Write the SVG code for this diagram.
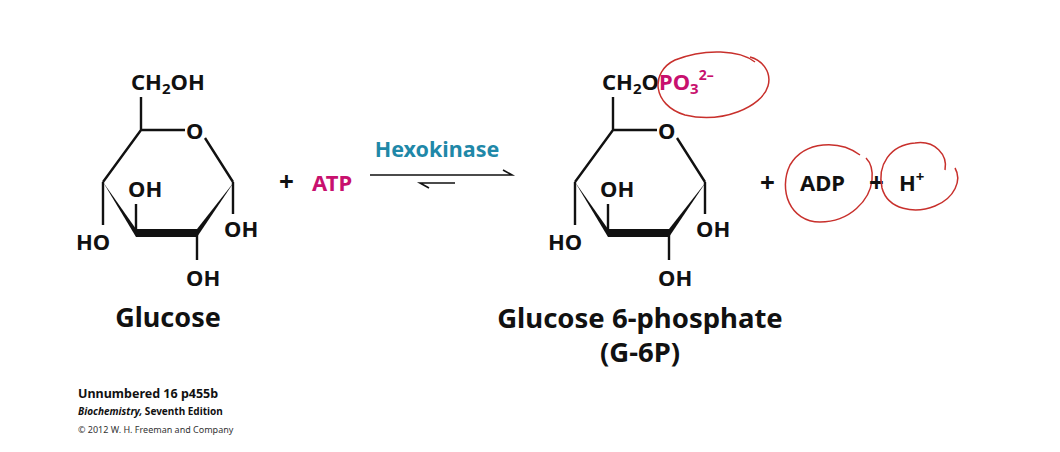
<svg xmlns="http://www.w3.org/2000/svg" width="1060" height="452" viewBox="0 0 1060 452">
<style>
.t{font-family:"Noto Sans",sans-serif;font-weight:bold;fill:#111}
.m{fill:#c8106e}
.b{stroke:#111;stroke-width:2.4;fill:none}
.red{stroke:#c8302c;stroke-width:1.5;fill:none}
</style>
<rect width="1060" height="452" fill="#fff"/>
<defs>
<g id="ring">
<path class="b" d="M141 130 L185 130 M205 138 L233 182 M103 182 L141 130 M103 182 L103 225 M233 182 L233 214 M197 233 L197 260 M136 233 L136 204 M141 130 L141 97"/>
<polygon points="103,182 136,229 136,237" fill="#111"/>
<rect x="136" y="229" width="61" height="8" fill="#111"/>
<polygon points="197,229 197,237 234,182" fill="#111"/>
<text class="t" x="186" y="139" font-size="22">O</text>
<text class="t" x="128" y="197" font-size="22">OH</text>
<text class="t" x="76" y="250" font-size="22">HO</text>
<text class="t" x="224" y="237" font-size="22">OH</text>
<text class="t" x="186" y="286" font-size="22">OH</text>
</g>
</defs>
<g id="glucose">
<use href="#ring"/>
<text class="t" x="131" y="90" font-size="22">CH<tspan font-size="15" dy="4">2</tspan><tspan dy="-4">OH</tspan></text>
<text class="t" x="168" y="327" font-size="27" text-anchor="middle">Glucose</text>
</g>
<g id="atp">
<text class="t" x="279" y="191" font-size="26">+</text>
<text class="t m" x="312" y="191" font-size="22">ATP</text>
</g>
<g id="connectors">
<text class="t" x="437" y="157" font-size="21.5" style="fill:#1f88a8" text-anchor="middle">Hexokinase</text>
<path d="M370 175 L512 175 L503 170" stroke="#111" stroke-width="1.6" fill="none"/>
<path d="M455 183 L420 183 L429 188" stroke="#111" stroke-width="1.6" fill="none"/>
</g>
<g id="g6p">
<use href="#ring" transform="translate(472 0)"/>
<text class="t" x="602" y="90" font-size="22">CH<tspan font-size="15" dy="4">2</tspan><tspan dy="-4">O</tspan><tspan class="m">PO</tspan><tspan class="m" font-size="15" dy="4">3</tspan><tspan class="m" font-size="14" dy="-14">2–</tspan></text>
<path class="red" d="M755 62 C740 50 705 48 675 60 C650 72 652 105 685 115 C722 124 762 107 768 86 C772 72 762 60 750 57"/>
<text class="t" x="640" y="328" font-size="27.5" text-anchor="middle">Glucose 6-phosphate</text>
<text class="t" x="640" y="362" font-size="27.5" text-anchor="middle">(G-6P)</text>
</g>
<g id="adp">
<text class="t" x="760" y="192" font-size="26">+</text>
<text class="t" x="800" y="191" font-size="22">ADP</text>
<path class="red" d="M860 155 C840 140 805 140 790 165 C778 190 790 222 820 222 C850 222 870 200 872 180 C873 170 870 162 866 158"/>
</g>
<g id="h">
<text class="t" x="869" y="192" font-size="26">+</text>
<text class="t" x="899" y="191" font-size="22">H<tspan font-size="15" dy="-9">+</tspan></text>
<path class="red" d="M945 170 C948 155 935 140 915 143 C890 145 877 165 882 188 C888 210 915 214 935 206 C955 198 962 180 955 168"/>
</g>
<g id="footer">
<text class="t" x="78" y="398" font-size="12.5">Unnumbered 16 p455b</text>
<text class="t" x="78" y="415" font-size="10"><tspan font-style="italic">Biochemistry,</tspan> Seventh Edition</text>
<text x="78" y="433" font-size="9" font-family="Noto Sans,sans-serif" fill="#333">© 2012 W. H. Freeman and Company</text>
</g>
</svg>
